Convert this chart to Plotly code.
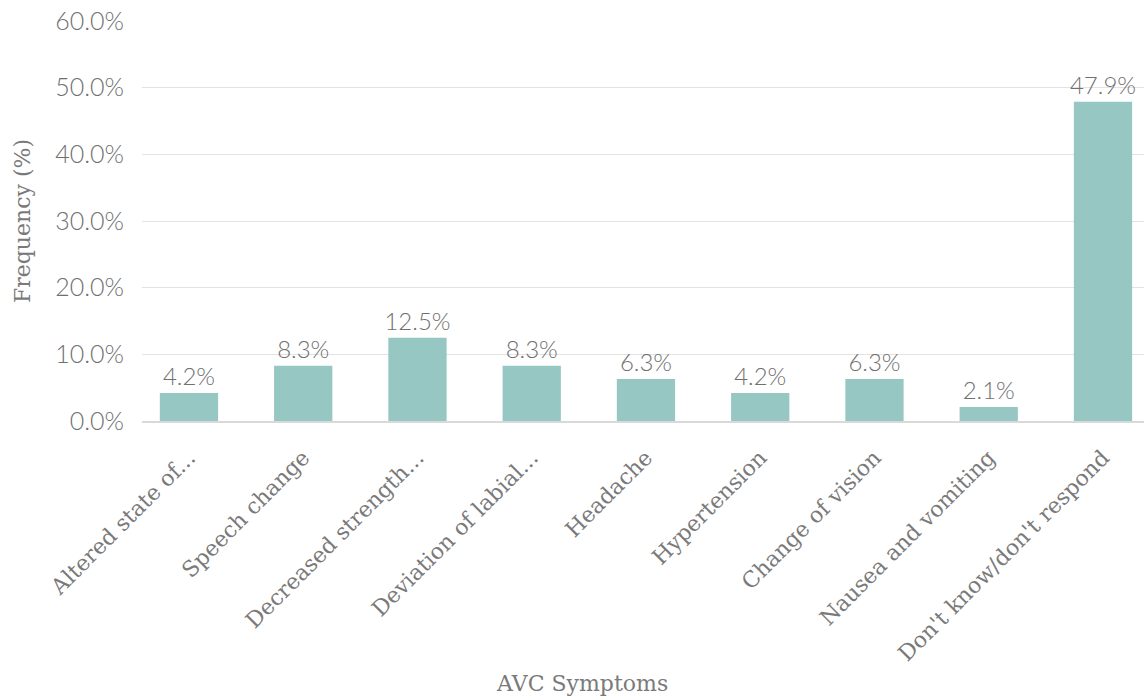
import plotly.graph_objects as go

categories = ["Altered state of...", "Speech change", "Decreased strength...",
              "Deviation of labial...", "Headache", "Hypertension",
              "Change of vision", "Nausea and vomiting", "Don't know/don't respond"]
values = [4.2, 8.3, 12.5, 8.3, 6.3, 4.2, 6.3, 2.1, 47.9]
y_ticks = [0, 10, 20, 30, 40, 50, 60]

tick_font = dict(family="Lato", size=25, color="#707070", weight=300)
label_font = dict(family="Lato", size=24, color="#707070", weight=300)
serif_font = dict(family="DejaVu Serif", size=22, color="#7a7a7a")

fig = go.Figure(go.Bar(
    x=categories, y=values,
    marker=dict(color="#97c7c3", line=dict(width=0)),
    width=0.51,
    text=[f"{v:.1f}%" for v in values],
    textposition="outside",
    textfont=label_font,
    constraintext="none",
    cliponaxis=False,
))

fig.update_layout(
    width=1144, height=700,
    margin=dict(l=142, r=0, t=21, b=279),
    paper_bgcolor="white", plot_bgcolor="white",
    showlegend=False,
    xaxis=dict(
        type="category",
        range=[-0.411, 8.359],
        tickangle=-45,
        tickfont=serif_font,
        showgrid=False,
        showline=True, linecolor="#d9d9d9", linewidth=2,
        ticks="outside", ticklen=13, tickcolor="rgba(0,0,0,0)",
    ),
    yaxis=dict(
        range=[0, 60],
        tickvals=y_ticks,
        ticktext=[f"{v:.1f}%" for v in y_ticks],
        tickfont=tick_font,
        showgrid=True, gridcolor="#e3e3e3", gridwidth=1,
        zeroline=False,
        ticks="outside", ticklen=12, tickcolor="rgba(0,0,0,0)",
        title=dict(text="Frequency (%)", font=serif_font, standoff=18),
    ),
    annotations=[dict(
        text="AVC Symptoms", xref="paper", yref="paper",
        x=0.439, y=-0.655, xanchor="center", yanchor="middle",
        showarrow=False, font=serif_font,
    )],
)

fig.write_html("out.html")
